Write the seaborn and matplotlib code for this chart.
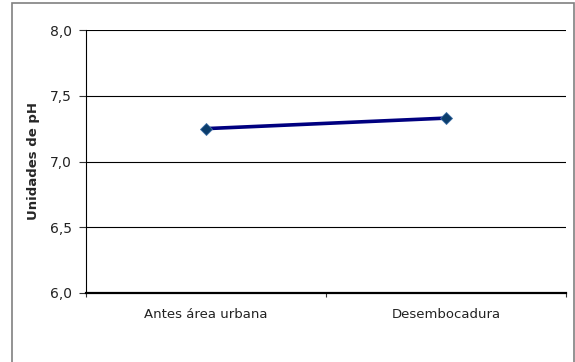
import matplotlib
matplotlib.use("Agg")
import matplotlib.pyplot as plt
import seaborn as sns
import pandas as pd
from matplotlib.patches import Rectangle
from matplotlib.ticker import FixedLocator

categories = ["Antes área urbana", "Desembocadura"]
ph_values = [7.25, 7.33]
y_ticks = [6.0, 6.5, 7.0, 7.5, 8.0]
y_labels = ["6,0", "6,5", "7,0", "7,5", "8,0"]

sns.set_theme(style="white")
plt.rcParams['font.family'] = ['DejaVu Sans']

df = pd.DataFrame({"cat": categories, "ph": ph_values})

fig = plt.figure(figsize=(5.75, 3.62), dpi=100)
ax = fig.add_axes([86/575, 1-293/362, (566-86)/575, (293-30)/362])

sns.lineplot(data=df, x="cat", y="ph", ax=ax, color="#000080", linewidth=2.6,
             marker="D", markersize=6.5, markerfacecolor="#0b3c6b",
             markeredgecolor="#3a6ea5", markeredgewidth=0.6, sort=False)

ax.set_xlim(-0.5, 1.5)
ax.set_ylim(6.0, 8.0)
ax.set_yticks(y_ticks)
ax.set_yticklabels(y_labels, fontsize=10, color="#222222")
ax.set_xticks([0, 1])
ax.set_xticklabels(categories, fontsize=9.5, color="#222222")
ax.tick_params(axis="x", which="major", length=0, pad=11)
ax.xaxis.set_minor_locator(FixedLocator([-0.5, 0.5, 1.5]))
ax.tick_params(axis="x", which="minor", bottom=True, length=3, width=0.8, color="#333333", direction="out")
ax.tick_params(axis="y", which="major", left=True, length=5, width=0.8, color="#333333", direction="out", pad=5)

for y in y_ticks[1:]:
    ax.axhline(y, color="black", linewidth=0.8, zorder=0)

for s in ["top", "right"]:
    ax.spines[s].set_visible(False)
ax.spines["left"].set_color("black")
ax.spines["left"].set_linewidth(0.8)
ax.spines["bottom"].set_color("black")
ax.spines["bottom"].set_linewidth(1.6)

ax.set_xlabel("")
ax.set_ylabel("Unidades de pH", fontsize=9.5, fontweight="bold")
ax.yaxis.set_label_coords(-0.095, 0.5)

fig.patches.append(Rectangle((12/575, -0.05), (574-12)/575, 1 - 3/362 + 0.05,
                             transform=fig.transFigure, fill=False,
                             edgecolor="#808080", linewidth=1.2))

fig.savefig("out.png", dpi=100)
